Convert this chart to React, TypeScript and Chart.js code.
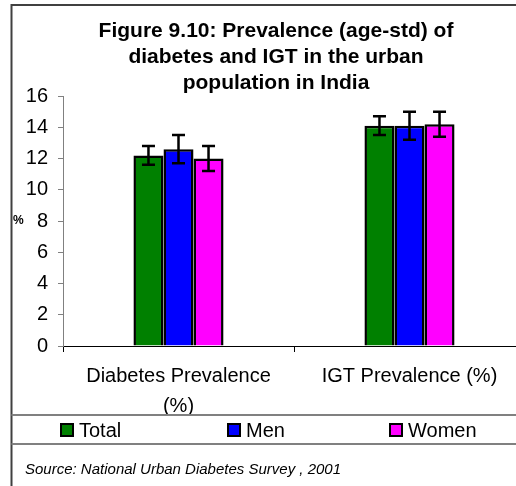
import React, { useEffect, useRef } from "react";
import { Chart, registerables } from "chart.js";

Chart.register(...registerables);

const categories: (string | string[])[] = [["Diabetes Prevalence", "(%)"], "IGT Prevalence (%)"];
const seriesNames = ["Total", "Men", "Women"];
const seriesColors = ["#008000", "#0000FF", "#FF00FF"];
const totalValues = [12.2, 14.1];
const menValues = [12.6, 14.1];
const womenValues = [12.0, 14.2];
const totalLow = [11.6, 13.5];
const totalHigh = [12.8, 14.7];
const menLow = [11.7, 13.2];
const menHigh = [13.5, 15.0];
const womenLow = [11.2, 13.4];
const womenHigh = [12.8, 15.0];
const yMin = 0;
const yMax = 16;
const yStep = 2;
const titleLines = [
  "Figure 9.10: Prevalence (age-std) of",
  "diabetes and IGT in the urban",
  "population in India",
];
const yAxisTitle = "%";
const sourceText = "Source: National Urban Diabetes Survey , 2001";

const FONT = "'Liberation Sans', Arial, Helvetica, sans-serif";

const lows = [totalLow, menLow, womenLow];
const highs = [totalHigh, menHigh, womenHigh];

const errorBarPlugin = {
  id: "errorBars",
  afterDatasetsDraw(chart: any) {
    const ctx = chart.ctx;
    const y = chart.scales.y;
    ctx.save();
    ctx.strokeStyle = "#000";
    ctx.lineWidth = 2.5;
    chart.data.datasets.forEach((_ds: any, di: number) => {
      const meta = chart.getDatasetMeta(di);
      meta.data.forEach((bar: any, i: number) => {
        const x = bar.x;
        const yl = y.getPixelForValue(lows[di][i]);
        const yh = y.getPixelForValue(highs[di][i]);
        const cap = 6.5;
        ctx.beginPath();
        ctx.moveTo(x, yl);
        ctx.lineTo(x, yh);
        ctx.moveTo(x - cap, yl);
        ctx.lineTo(x + cap, yl);
        ctx.moveTo(x - cap, yh);
        ctx.lineTo(x + cap, yh);
        ctx.stroke();
      });
    });
    ctx.restore();
  },
};

const decorPlugin = {
  id: "decor",
  afterDraw(chart: any) {
    const ctx = chart.ctx;
    ctx.save();
    // frame
    ctx.strokeStyle = "#404040";
    ctx.lineWidth = 2;
    ctx.beginPath();
    ctx.moveTo(11.5, 486);
    ctx.lineTo(11.5, 5);
    ctx.lineTo(560, 5);
    ctx.stroke();
    ctx.strokeStyle = "#808080";
    ctx.beginPath();
    ctx.moveTo(11.5, 415);
    ctx.lineTo(560, 415);
    ctx.moveTo(11.5, 444);
    ctx.lineTo(560, 444);
    ctx.stroke();

    // title
    ctx.fillStyle = "#000";
    ctx.font = `bold 21px ${FONT}`;
    ctx.textAlign = "center";
    ctx.textBaseline = "alphabetic";
    const tb = [37, 63, 89];
    titleLines.forEach((t, i) => ctx.fillText(t, 276, tb[i]));

    // y axis title
    ctx.font = `bold 12px ${FONT}`;
    ctx.textAlign = "left";
    ctx.textBaseline = "middle";
    ctx.fillText(yAxisTitle, 13, chart.scales.y.getPixelForValue(8));

    // legend
    const lx = [61, 228, 390];
    ctx.font = `20px ${FONT}`;
    ctx.textBaseline = "alphabetic";
    seriesNames.forEach((n, i) => {
      ctx.fillStyle = seriesColors[i];
      ctx.fillRect(lx[i], 424, 12, 12);
      ctx.strokeStyle = "#000";
      ctx.lineWidth = 2;
      ctx.strokeRect(lx[i], 424, 12, 12);
      ctx.fillStyle = "#000";
      ctx.fillText(n, lx[i] + 18, 437);
    });

    // source
    ctx.font = `italic 15px ${FONT}`;
    ctx.fillText(sourceText, 25, 474);
    ctx.restore();
  },
};

export default function App() {
  const ref = useRef<HTMLCanvasElement | null>(null);
  useEffect(() => {
    if (!ref.current) return;
    const chart = new Chart(ref.current, {
      type: "bar",
      data: {
        labels: categories as any,
        datasets: [totalValues, menValues, womenValues].map((d, i) => ({
          label: seriesNames[i],
          data: d,
          backgroundColor: seriesColors[i],
          borderColor: "#000",
          borderWidth: 2.5,
          barPercentage: 1,
          categoryPercentage: 0.39,
        })),
      },
      options: {
        responsive: false,
        animation: false,
        devicePixelRatio: 1,
        layout: { padding: { left: 0, right: 35, top: 96, bottom: 70 } },
        plugins: {
          legend: { display: false },
          title: { display: false },
          tooltip: { enabled: false },
        },
        scales: {
          x: {
            grid: {
              drawOnChartArea: false,
              tickLength: 6,
              color: "#000",
              offset: true,
            },
            border: { color: "#000", width: 1 },
            ticks: {
              color: "#000",
              font: { family: FONT, size: 20, lineHeight: 1.5 },
              padding: 9,
              maxRotation: 0,
              autoSkip: false,
            },
            afterFit: (s: any) => {
              s.height = 70;
            },
          },
          y: {
            min: yMin,
            max: yMax,
            ticks: {
              stepSize: yStep,
              color: "#000",
              font: { family: FONT, size: 20 },
              padding: 10,
            },
            grid: { drawOnChartArea: false, tickLength: 5, color: "#808080" },
            border: { color: "#808080", width: 1 },
            afterFit: (s: any) => {
              s.width = 63;
            },
          },
        },
      },
      plugins: [errorBarPlugin, decorPlugin],
    });
    return () => chart.destroy();
  }, []);
  return (
    <div
      style={{
        position: "fixed",
        left: 0,
        top: 0,
        width: 516,
        height: 486,
        overflow: "hidden",
        background: "#fff",
      }}
    >
      <canvas ref={ref} width={560} height={486} style={{ width: 560, height: 486, display: "block" }} />
    </div>
  );
}
